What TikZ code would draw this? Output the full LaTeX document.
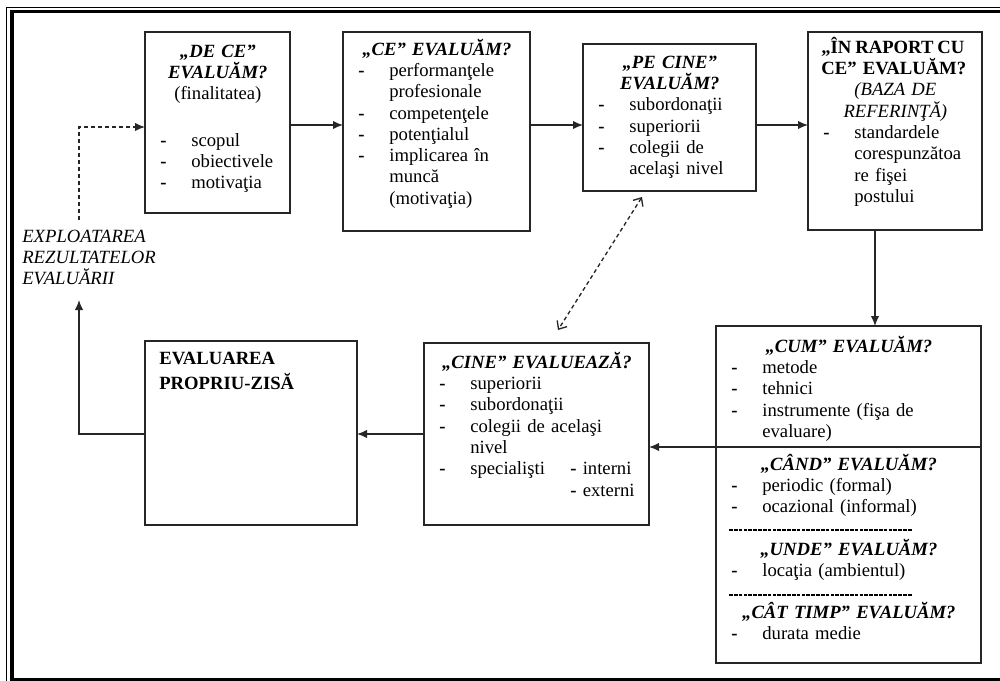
\documentclass[tikz,border=0pt]{standalone}
\usepackage{fontspec}
\setmainfont{Liberation Serif}
\usetikzlibrary{arrows.meta}
\tikzset{
	box/.style={draw=black!85, line width=0.8pt, anchor=north west, inner sep=0pt, outer sep=0pt},
	txt/.style={anchor=base west, inner sep=0pt, align=left, font=\fontsize{11.2}{12.8}\selectfont},
	arr/.style={draw=black!85, line width=0.7pt, -{Latex[length=6pt,width=5pt]}},
	darr/.style={arr, dash pattern=on 2.4pt off 1.8pt},
	dbl/.style={draw=black!85, line width=0.8pt, dash pattern=on 2.4pt off 1.8pt, {Straight Barb[length=4pt,width=7pt]}-{Straight Barb[length=4pt,width=7pt]}},
	hyph/.style={line width=1.3pt, dash pattern=on 2.2pt off 0.7pt}
}
\newcommand\ttl[1]{\makebox[\linewidth][c]{#1}}
\newcommand\bfit[1]{\textbf{\textit{#1}}}
\newcommand\dl[1]{\makebox[19.8pt][l]{\hspace{1.2pt}\textbf{-}}#1}
\newcommand\dc[1]{\hspace*{19.8pt}#1}
\begin{document}
\begin{tikzpicture}[x=0.6pt,y=-0.6pt]
	\path[use as bounding box, clip] (0,0) rectangle (1000,680);
	\draw [line width=0.6pt] (6.5,7) rectangle (1010,690);
	\draw [line width=2.1pt] (12,11.5) rectangle (1004,679.5);
	
	\node [box, minimum width=87pt, minimum height=108.6pt] (dece) at (145,32) {};
	\node [box, minimum width=112.2pt, minimum height=119.4pt] (ce) at (343,32) {};
	\node [box, minimum width=103.8pt, minimum height=88.2pt] (pecine) at (583,44) {};
	\node [box, minimum width=104.4pt, minimum height=118.8pt] (raport) at (808,32) {};
	\node [box, minimum width=159pt, minimum height=202.2pt] (cum) at (716,326) {};
	\node [box, minimum width=135pt, minimum height=109.2pt] (cine) at (424,343) {};
	\node [box, minimum width=127.2pt, minimum height=110.4pt] (propriu) at (145,341) {};
	
	\node [txt, text width=71.4pt] (dece-t) at (158,57)
		{\ttl{\bfit{„DE CE”}}\\ \ttl{\bfit{EVALUĂM?}}\\ \ttl{(finalitatea)}\\[15pt]
		\dl{scopul}\\ \dl{obiectivele}\\ \dl{motivaţia}};
	\node [txt, text width=96.6pt] (ce-t) at (356,55)
		{\ttl{\bfit{„CE” EVALUĂM?}}\\ \dl{performanţele}\\ \dc{profesionale}\\ \dl{competenţele}\\
		\dl{potenţialul}\\ \dl{implicarea în}\\ \dc{muncă}\\ \dc{(motivaţia)}};
	\node [txt, text width=88.2pt] (pecine-t) at (596,68)
		{\ttl{\bfit{„PE CINE”}}\\ \ttl{\bfit{EVALUĂM?}}\\ \dl{subordonaţii}\\ \dl{superiorii}\\
		\dl{colegii de}\\ \dc{acelaşi nivel}};
	\node [txt, text width=88.8pt] (raport-t) at (821,53)
		{\makebox[85.8pt][s]{\textbf{„ÎN\hfill RAPORT\hfill CU}}\\ \textbf{CE” EVALUĂM?}\\
		\ttl{\textit{(BAZA DE}}\\ \ttl{\textit{REFERINŢĂ)}}\\ \dl{standardele}\\ \dc{corespunzătoa}\\
		\dc{re fişei}\\ \dc{postului}};
	
	\node [txt, text width=143.4pt] (cum-t) at (729,352)
		{\ttl{\bfit{„CUM” EVALUĂM?}}\\ \dl{metode}\\ \dl{tehnici}\\ \dl{instrumente (fişa de}\\ \dc{evaluare)}};
	\node [txt, text width=143.4pt] (cand-t) at (729,470)
		{\ttl{\bfit{„CÂND” EVALUĂM?}}\\ \dl{periodic (formal)}\\ \dl{ocazional (informal)}};
	\node [txt, text width=143.4pt] (unde-t) at (729,555)
		{\ttl{\bfit{„UNDE” EVALUĂM?}}\\ \dl{locaţia (ambientul)}};
	\node [txt, text width=143.4pt] (cat-t) at (729,618)
		{\ttl{\bfit{„CÂT TIMP” EVALUĂM?}}\\ \dl{durata medie}};
	\draw [hyph] (729,530) -- (912,530);
	\draw [hyph] (729,595) -- (912,595);
	
	\node [txt, text width=119.4pt] (cine-t) at (437,368)
		{\ttl{\bfit{„CINE” EVALUEAZĂ?}}\\ \dl{superiorii}\\ \dl{subordonaţii}\\ \dl{colegii de acelaşi}\\
		\dc{nivel}\\ \dl{\makebox[60pt][l]{specialişti}\textbf{-} interni}\\ \dc{\hspace*{60pt}\textbf{-} externi}};
	\node [txt, text width=108pt, font=\fontsize{11.2}{15}\selectfont] (propriu-t) at (159,364)
		{\textbf{EVALUAREA}\\ \textbf{PROPRIU-ZISĂ}};
	\node [txt, text width=90pt] (expl) at (22,242)
		{\textit{EXPLOATAREA}\\ \textit{REZULTATELOR}\\ \textit{EVALUĂRII}};
	
	\coordinate (row) at (0,125);
	\coordinate (lowrow) at (0,434);
	\coordinate (split) at (981,447);
	\coordinate (colr) at (875,0);
	\coordinate (ret) at (79,300);
	\coordinate (retd) at (79,220);
	
	\draw [arr] (dece.east |- row) -- (ce.west |- row);
	\draw [arr] (ce.east |- row) -- (pecine.west |- row);
	\draw [arr] (pecine.east |- row) -- (raport.west |- row);
	\draw [arr] (raport.south -| colr) -- (cum.north -| colr);
	\draw [arr] (split) -- (split -| cine.east);
	\draw [arr] (cine.west |- lowrow) -- (propriu.east |- lowrow);
	\draw [arr] (propriu.west |- lowrow) -| (ret);
	\draw [darr] (retd) |- (dece.west |- 0,127);
	\draw [dbl] ([xshift=-16.5pt,yshift=-3.6pt]pecine.south) -- ([xshift=12.9pt,yshift=7.8pt]cine.north);
\end{tikzpicture}
\end{document}
